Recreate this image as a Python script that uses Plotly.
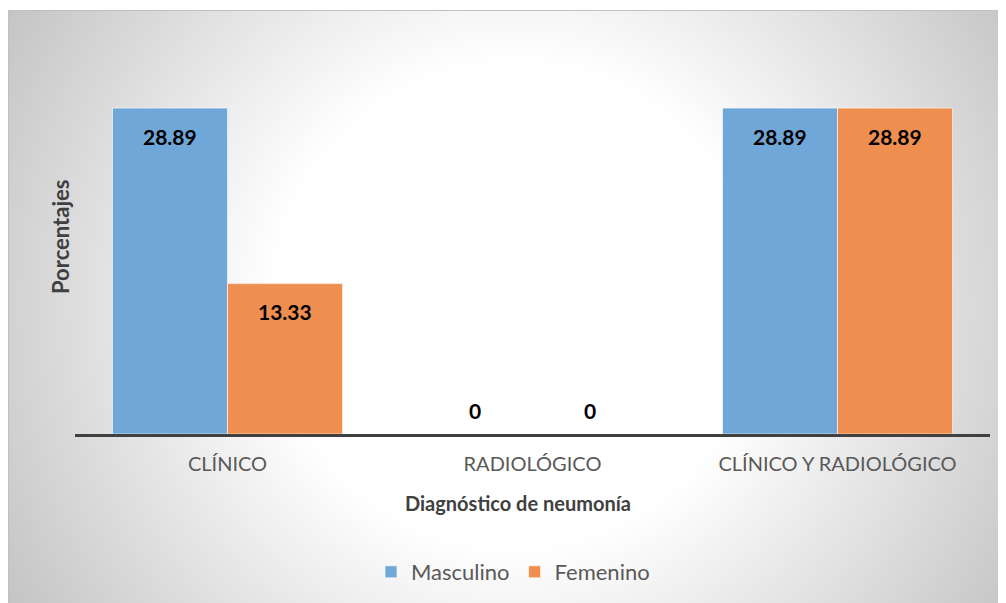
import base64
import plotly.graph_objects as go

categories = ["CLÍNICO", "RADIOLÓGICO", "CLÍNICO Y RADIOLÓGICO"]
masculino = [28.89, 0, 28.89]
femenino = [13.33, 0, 28.89]
series_names = ["Masculino", "Femenino"]
x_title = "Diagnóstico de neumonía"
y_title = "Porcentajes"

W, H = 1006, 603
L, R, T, B = 67, 24, 65, 177
pw, ph = W - L - R, H - T - B

FONT = "Lato, 'Open Sans', sans-serif"
colors = ["#6FA7D8", "#EF8F4F"]

IW, IH = 1006, 601
svg = (
    f'<svg xmlns="http://www.w3.org/2000/svg" width="{IW}" height="{IH}">'
    '<defs><radialGradient id="g" gradientUnits="userSpaceOnUse" cx="507" cy="295" r="600">'
    '<stop offset="0" stop-color="#ffffff"/>'
    '<stop offset="0.4" stop-color="#ffffff"/>'
    '<stop offset="1" stop-color="#c2c2c2"/>'
    '</radialGradient></defs>'
    f'<rect width="{IW}" height="{IH}" fill="url(#g)"/></svg>'
)
src = "data:image/svg+xml;base64," + base64.b64encode(svg.encode()).decode()

def px_x(px):
    return (px - L) / pw

def px_y(py):
    return (H - B - py) / ph

fig = go.Figure()
for name, vals, col in zip(series_names, [masculino, femenino], colors):
    fig.add_trace(go.Bar(
        name=name, x=categories, y=vals,
        marker=dict(color=col, line=dict(color="rgba(255,255,255,0.6)", width=1)),
        hoverinfo="x+y+name",
    ))

gap = 0.246
bw = (1 - gap) / 2
annotations = []
for si, vals in enumerate([masculino, femenino]):
    off = -bw / 2 if si == 0 else bw / 2
    for ci, v in enumerate(vals):
        annotations.append(dict(
            x=ci + off, y=v, xref="x", yref="y",
            text=f"<b>{v:g}</b>", showarrow=False,
            yanchor="middle", yshift=(-28 if v > 0 else 24),
            font=dict(family=FONT, size=21, color="#000000"),
        ))

annotations.append(dict(
    x=px_x(510), y=px_y(495), xref="paper", yref="paper",
    text=f"<b>{x_title}</b>", showarrow=False,
    xanchor="center", yanchor="middle",
    font=dict(family=FONT, size=20, color="#404040"),
))
annotations.append(dict(
    x=px_x(52), y=px_y(229), xref="paper", yref="paper",
    text=f"<b>{y_title}</b>", showarrow=False, textangle=-90,
    xanchor="center", yanchor="middle",
    font=dict(family=FONT, size=22, color="#404040"),
))

fig.update_layout(
    width=W, height=H,
    margin=dict(l=L, r=R, t=T, b=B, pad=0),
    paper_bgcolor="#ffffff",
    plot_bgcolor="rgba(0,0,0,0)",
    barmode="group", bargap=gap, bargroupgap=0,
    font=dict(family=FONT, color="#595959"),
    images=[dict(
        source=src, xref="paper", yref="paper",
        x=px_x(0), y=px_y(2), sizex=IW / pw, sizey=IH / ph,
        xanchor="left", yanchor="top", sizing="stretch", layer="below",
    )],
    shapes=[dict(
        type="rect", xref="paper", yref="paper",
        x0=px_x(0.5), y0=px_y(620), x1=px_x(1030), y1=px_y(2.5),
        line=dict(color="#c0c0c0", width=1), layer="below",
    )],
    xaxis=dict(
        showline=True, linecolor="#404040", linewidth=3,
        ticks="", showgrid=False,
        tickfont=dict(family=FONT, size=20, color="#595959"),
        ticklabelstandoff=10,
    ),
    yaxis=dict(
        range=[0, 32], showticklabels=False, showgrid=False,
        zeroline=False, showline=False, ticks="",
    ),
    legend=dict(
        orientation="h", x=px_x(505), xanchor="center",
        y=px_y(564), yanchor="middle",
        font=dict(family=FONT, size=22, color="#595959"),
        bgcolor="rgba(0,0,0,0)",
    ),
    annotations=annotations,
)

fig.write_html("out.html")
